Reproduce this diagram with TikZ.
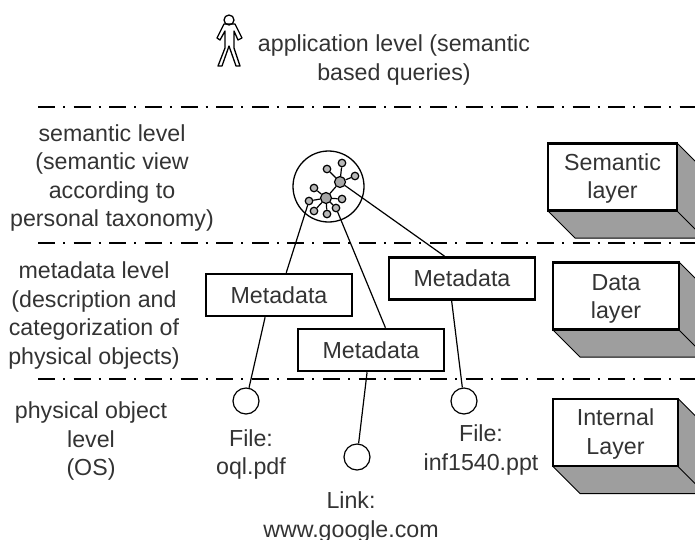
\documentclass[tikz,border=0pt]{standalone}
\usepackage{fontspec}
\setmainfont{Liberation Sans}
\definecolor{shadegray}{gray}{0.62}
\definecolor{hubgray}{gray}{0.65}
\newcommand{\labelfont}{\fontsize{23.2pt}{28.4pt}\selectfont}
\tikzset{
    levelline/.style={line width=2pt,dash pattern=on 17pt off 8pt on 2pt off 8.64pt},
    levellabel/.style={align=center,font=\labelfont,text=black!80},
    metabox/.style={draw,line width=2.5pt,fill=white,minimum width=146pt,minimum height=42pt,inner sep=0pt,font=\labelfont,text=black!80},
    layerbox/.style={draw,line width=2.8pt,fill=white,minimum height=67pt,inner sep=0pt},
    fileball/.style={draw,line width=1.2pt,circle,minimum size=26pt,inner sep=0pt},
    bigball/.style={draw,line width=1.3pt,circle,minimum size=71pt,inner sep=0pt},
    hub/.style={draw,line width=1.2pt,circle,fill=hubgray,minimum size=11pt,inner sep=0pt},
    leaf/.style={draw,line width=1.2pt,circle,fill=hubgray!80,minimum size=7.5pt,inner sep=0pt},
    spoke/.style={line width=1.2pt},
    link/.style={line width=1.2pt}
}
\newcommand{\layerblock}[6]{% name, centre x, centre y, width, text, text shift
    \fill[shadegray] (#2-#4/2,#3+34) -- (#2+#4/2,#3+34) -- ++(27,27) -- ++(-#4,0) -- cycle;
    \fill[shadegray] (#2+#4/2,#3-34) -- ++(27,27) -- ++(0,68) -- ++(-27,-27) -- cycle;
    \draw[line width=1pt] (#2-#4/2,#3+34) -- ++(27,27) -- ++(#4,0);
    \draw[line width=1pt] (#2+#4/2,#3-34) -- ++(27,27);
    \draw[line width=1pt] (#2+#4/2,#3+34) -- ++(27,27);
    \node[layerbox,minimum width=#4 pt] (#1) at (#2,#3) {};
    \node[levellabel] (#1text) at (#2,#3+#6) {#5};
}
\begin{document}
\begin{tikzpicture}[x=1pt,y=-1pt]
\useasboundingbox (0,0) rectangle (695,539);
\clip (0,0) rectangle (695,539);

% level lines
\foreach \y in {106.7,243,379}{
    \coordinate (la) at (38,\y);
    \coordinate (lb) at (695,\y);
    \draw[levelline] (la) -- (lb);
}

% person
\node[draw,line width=1.3pt,circle,minimum size=10pt,inner sep=0pt] (head) at (229,20) {};
\draw[line width=1.3pt,line join=round] (224,24) -- (217,38) -- (220,40) -- (225,31) -- (225,48) -- (218,66) -- (222,66) -- (229,46) -- (236,66) -- (240,66) -- (234,48) -- (234,31) -- (238,40) -- (242,38) -- (235,24) -- cycle;

% labels
\node[levellabel] (applabel) at (394,60) {application level (semantic\\based queries)};
\node[levellabel] (semlabel) at (112,178) {semantic level\\(semantic view\\according to\\personal taxonomy)};
\node[levellabel] (metalabel) at (94,315.5) {metadata level\\(description and\\categorization of\\physical objects)};
\node[levellabel] (physlabel) at (91,441) {physical object\\level\\(OS)};

% layers
\layerblock{semlayer}{612.5}{177}{129}{Semantic\\layer}{1.5}
\layerblock{datalayer}{616}{296}{126}{Data\\layer}{3}
\layerblock{intlayer}{615.5}{432.5}{125}{Internal\\Layer}{1.5}

% taxonomy
\node[bigball] (taxo) at (328.5,186.5) {};
\node[hub] (hubA) at (326,198) {};
\node[hub] (hubB) at (340,182) {};
\draw[spoke] (hubA) -- (hubB);
\foreach \n/\x/\y in {a/309/201,b/314/188,c/342/199,d/336/208,e/327/214,f/314/211}{
    \node[leaf] (leaf\n) at (\x,\y) {};
    \draw[spoke] (hubA) -- (leaf\n);
}
\foreach \n/\x/\y in {g/327/169,h/342/163,i/355/176}{
    \node[leaf] (leaf\n) at (\x,\y) {};
    \draw[spoke] (hubB) -- (leaf\n);
}

% metadata boxes
\node[metabox] (metaone) at (279,295) {Metadata};
\node[metabox] (metatwo) at (371,350) {Metadata};
\node[metabox] (metathree) at (462,278.5) {Metadata};

% objects
\node[fileball] (fileone) at (246,401) {};
\node[fileball] (linkone) at (357,457) {};
\node[fileball] (filetwo) at (464,401) {};
\node[levellabel] (fileonelabel) at (251,454.5) {File:\\oql.pdf};
\node[levellabel] (filetwolabel) at (481,450) {File:\\inf1540.ppt};
\node[levellabel] (linklabel) at (351,517) {Link:\\www.google.com};

% links
\draw[link] (leafa) -- (metaone.72);
\draw[link] (leafd) -- (metatwo.57.5);
\draw[link] (hubB) -- (metathree.128.3);
\draw[link] (metaone.-122.5) -- (fileone);
\draw[link] (metatwo.-100) -- (linkone);
\draw[link] (metathree.-115) -- (filetwo);
\end{tikzpicture}
\end{document}
